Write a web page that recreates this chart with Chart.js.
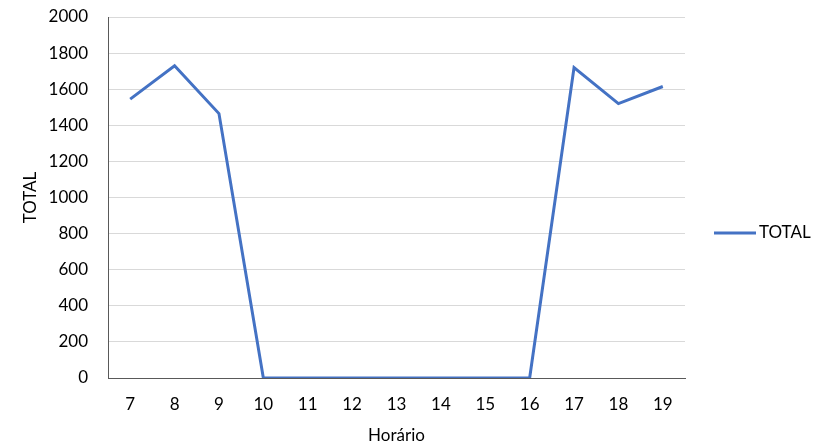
<!DOCTYPE html>
<html>
<head>
<meta charset="utf-8">
<script src="https://cdn.jsdelivr.net/npm/chart.js@4.4.0/dist/chart.umd.min.js"></script>
<style>
  html, body { margin: 0; padding: 0; background: #fff; }
  #wrap { width: 830px; height: 448px; }
</style>
</head>
<body>
<div id="wrap"><canvas id="lineChart" width="830" height="448"></canvas></div>
<script>
// Chart data
const horas = ['7', '8', '9', '10', '11', '12', '13', '14', '15', '16', '17', '18', '19'];
const total = [1545, 1730, 1465, 0, 0, 0, 0, 0, 0, 0, 1720, 1520, 1615];
const seriesName = 'TOTAL';

const fontFamily = 'Lato, "Open Sans", sans-serif';

// Legend drawn on the right, Excel style
const sideLegend = {
    id: 'sideLegend',
    afterDraw(chart) {
        const c = chart.ctx;
        const ds = chart.data.datasets[0];
        c.save();
        c.strokeStyle = ds.borderColor;
        c.lineWidth = 3;
        c.beginPath();
        c.moveTo(714, 233);
        c.lineTo(756, 233);
        c.stroke();
        c.fillStyle = '#000';
        c.font = '17px ' + fontFamily;
        c.textBaseline = 'middle';
        c.fillText(ds.label, 759, 233);
        c.restore();
    }
};

const ctx = document.getElementById('lineChart').getContext('2d');
const lineChart = new Chart(ctx, {
    type: 'line',
    data: {
        labels: horas,
        datasets: [{
            label: seriesName,
            data: total,
            borderColor: '#4472C4',
            borderWidth: 3,
            pointRadius: 0,
            tension: 0
        }]
    },
    options: {
        responsive: false,
        animation: false,
        layout: {
            padding: { left: 20, right: 145, top: 17, bottom: 2 }
        },
        plugins: {
            legend: { display: false },
            tooltip: { enabled: false }
        },
        scales: {
            x: {
                offset: true,
                grid: { display: false, drawTicks: false },
                border: { color: '#595959', width: 1 },
                ticks: { color: '#000', padding: 16, font: { family: fontFamily, size: 17 } },
                title: {
                    display: true,
                    text: 'Horário',
                    color: '#000',
                    padding: { top: 6, bottom: 0 },
                    font: { family: fontFamily, size: 17 }
                },
                afterFit(scale) {
                    scale.height = 448 - 378 - 2;
                    scale.paddingLeft = 0;
                    scale.paddingRight = 0;
                }
            },
            y: {
                min: 0,
                max: 2000,
                ticks: {
                    stepSize: 200,
                    color: '#000',
                    padding: 20,
                    font: { family: fontFamily, size: 17 },
                    callback: value => String(value)
                },
                grid: { color: '#d9d9d9', drawTicks: false },
                border: { color: '#595959', width: 1 },
                title: {
                    display: true,
                    text: 'TOTAL',
                    color: '#000',
                    padding: { top: 0, bottom: 0 },
                    font: { family: fontFamily, size: 17 }
                },
                afterFit(scale) {
                    scale.width = 108 - 20;
                    scale.paddingTop = 0;
                    scale.paddingBottom = 0;
                }
            }
        }
    },
    plugins: [sideLegend]
});
</script>
</body>
</html>
